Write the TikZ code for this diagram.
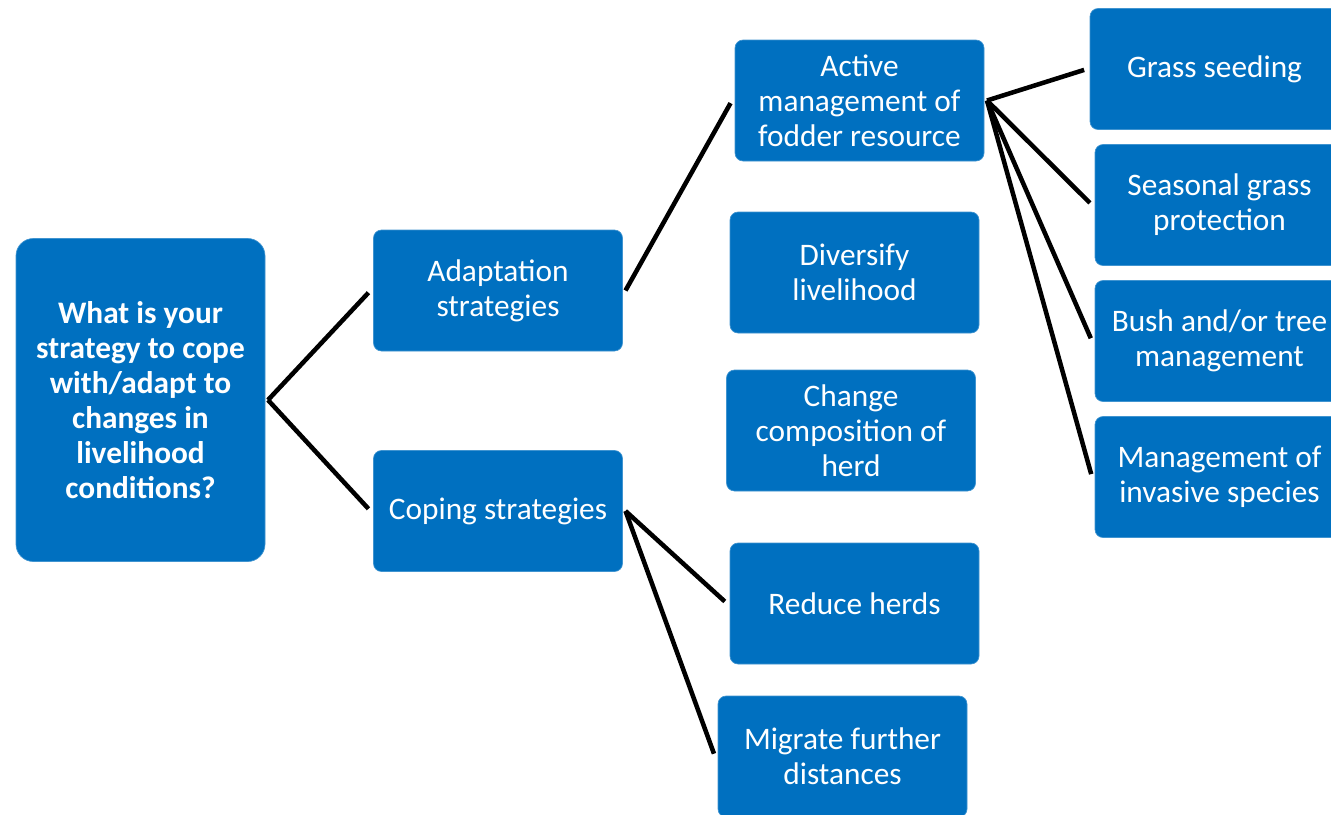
\documentclass[tikz,border=0pt]{standalone}
\usepackage{fontspec}
\setmainfont{Carlito}
\usepackage{tikz}
\usetikzlibrary{calc,positioning}
\definecolor{boxblue}{HTML}{0070C0}

\begin{document}
\begin{tikzpicture}[x=0.75pt,y=-0.75pt,
		box/.style={fill=boxblue,draw=boxblue!75!white,line width=0.5pt,text=white,rounded corners=6pt,align=center,minimum width=186.75pt,minimum height=90.75pt,inner sep=0pt,outer sep=2.25pt,font=\fontsize{23.5}{26.25}\selectfont},
		link/.style={line width=3.4pt,shorten >=2.25pt}]
		\useasboundingbox (0,0) rectangle (1331,814);
		\clip (0,0) rectangle (1331,814);
		% question
		\node[box,minimum height=242.25pt,rounded corners=13pt,font=\fontsize{23.5}{26.25}\selectfont\bfseries] (root) at (140.5,400) {What is your\\strategy to cope\\with/adapt to\\changes in\\livelihood\\conditions?};
		% two kinds of strategy
		\node[box] (adapt) at (498,290.5) {Adaptation\\strategies};
		\node[box] (coping) at (498,511) {Coping strategies};
		% middle column
		\node[box] (active) at (859.5,100.5) {Active\\management of\\fodder resource};
		\node[box] (diversify) at (854.5,272.5) {Diversify\\livelihood};
		\node[box] (change) at (851,430.5) {Change\\composition of\\herd};
		\node[box] (reduce) at (854.5,603.5) {Reduce herds};
		\node[box] (migrate) at (842.5,756.5) {Migrate further\\distances};
		% fodder management measures
		\node[box] (grass) at (1214.5,69) {Grass seeding};
		\node[box] (seasonal) at (1219.5,205) {Seasonal grass\\protection};
		\node[box] (bush) at (1219.5,341) {Bush and/or tree\\management};
		\node[box] (invasive) at (1219.5,477) {Management of\\invasive species};
		\draw[link] (root.east) -- (adapt.west);
		\draw[link] (root.east) -- (coping.west);
		\draw[link] (adapt.east) -- (active.west);
		\foreach \n in {reduce,migrate}
		\draw[link] (coping.east) -- (\n.west);
		\foreach \n in {grass,seasonal,bush,invasive}
		\draw[link] (active.east) -- (\n.west);
		\end{tikzpicture}
\end{document}
